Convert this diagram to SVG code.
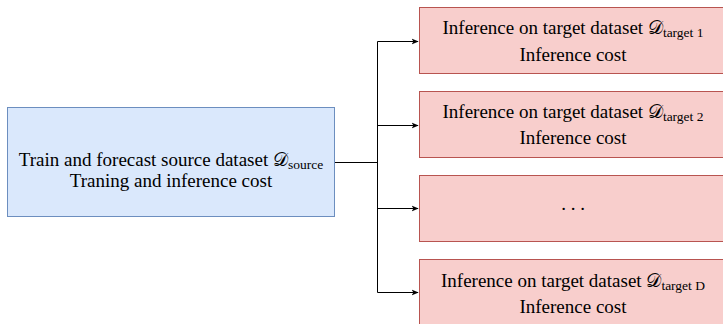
<svg xmlns="http://www.w3.org/2000/svg" width="723" height="324" viewBox="0 0 723 324">
<defs>
<style>
.src{fill:#dae8fc;stroke:#6c8ebf;stroke-width:1}
.tgt{fill:#f8cecc;stroke:#b85450;stroke-width:1}
.t{font-family:'Liberation Serif','Times New Roman',serif;font-size:19px;fill:#000;text-anchor:middle}
.sub{font-size:13.5px}
.c{fill:none;stroke:#000;stroke-width:1}
</style>
<marker id="ah" viewBox="0 0 10 10" refX="9" refY="5" markerWidth="7" markerHeight="7" orient="auto" markerUnits="userSpaceOnUse">
<path d="M0,1 L10,5 L0,9 L2.5,5 Z" fill="#000"/>
</marker>
</defs>
<g id="source">
<rect class="src" x="7.5" y="107.5" width="327" height="109"/>
<text class="t" x="171" y="166">Train and forecast source dataset 𝒟<tspan class="sub" dy="3">source</tspan></text>
<text class="t" x="171" y="187">Traning and inference cost</text>
</g>
<g id="target1">
<rect class="tgt" x="419.5" y="7.5" width="310" height="66"/>
<text class="t" x="573" y="34">Inference on target dataset 𝒟<tspan class="sub" dy="3">target 1</tspan></text>
<text class="t" x="573" y="61">Inference cost</text>
</g>
<g id="target2">
<rect class="tgt" x="419.5" y="91.5" width="310" height="66"/>
<text class="t" x="573" y="118">Inference on target dataset 𝒟<tspan class="sub" dy="3">target 2</tspan></text>
<text class="t" x="573" y="144">Inference cost</text>
</g>
<g id="target3">
<rect class="tgt" x="419.5" y="175.5" width="310" height="66"/>
<text class="t" x="573" y="210">. . .</text>
</g>
<g id="targetD">
<rect class="tgt" x="419.5" y="259.5" width="310" height="66"/>
<text class="t" x="573" y="287">Inference on target dataset 𝒟<tspan class="sub" dy="3">target D</tspan></text>
<text class="t" x="573" y="313">Inference cost</text>
</g>
<g id="connectors">
<path class="c" d="M335,162.5 H377.5"/>
<path class="c" d="M377.5,41.5 V292.5"/>
<path class="c" d="M377.5,41.5 H418" marker-end="url(#ah)"/>
<path class="c" d="M377.5,125.5 H418" marker-end="url(#ah)"/>
<path class="c" d="M377.5,208.5 H418" marker-end="url(#ah)"/>
<path class="c" d="M377.5,292.5 H418" marker-end="url(#ah)"/>
</g>
</svg>
